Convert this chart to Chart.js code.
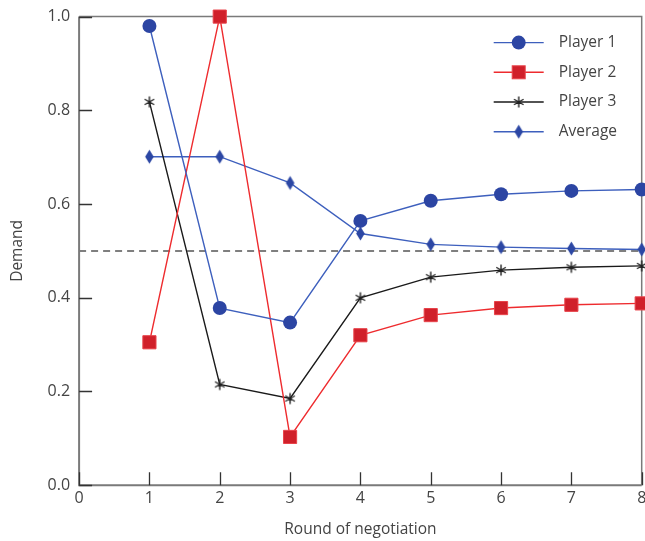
<!DOCTYPE html>
<html>
<head>
<meta charset="utf-8">
<script src="https://cdn.jsdelivr.net/npm/chart.js@4.4.1/dist/chart.umd.min.js"></script>
<style>
html,body{margin:0;padding:0;background:#fff;overflow:hidden;}
#wrap{position:relative;width:645px;height:541px;overflow:hidden;}
#c{position:absolute;left:0;top:-2px;}
</style>
</head>
<body>
<div id="wrap"><canvas id="c" width="652" height="543"></canvas></div>
<script>
const rounds = [1, 2, 3, 4, 5, 6, 7, 8];
const player1 = [0.98, 0.378, 0.347, 0.564, 0.607, 0.621, 0.628, 0.631];
const player2 = [0.305, 1.0, 0.103, 0.320, 0.363, 0.378, 0.385, 0.388];
const player3 = [0.818, 0.215, 0.185, 0.400, 0.444, 0.459, 0.465, 0.468];
const average = [0.701, 0.701, 0.645, 0.537, 0.514, 0.508, 0.505, 0.503];
const fairShare = 0.5;
const xTicks = [0, 1, 2, 3, 4, 5, 6, 7, 8];
const yTicks = [0.0, 0.2, 0.4, 0.6, 0.8, 1.0];
const seriesLabels = ['Player 1', 'Player 2', 'Player 3', 'Average'];

const FONT = "'Open Sans', 'Noto Sans', sans-serif";
const TXT = '#444';

function mkCanvas(w, h, draw) {
  const c = document.createElement('canvas');
  c.width = w; c.height = h;
  const g = c.getContext('2d');
  draw(g, w, h);
  return c;
}
const starImg = mkCanvas(14, 14, (g, w, h) => {
  g.strokeStyle = '#222'; g.lineWidth = 1.4;
  const cx = w / 2, cy = h / 2, r = 5.5;
  g.beginPath();
  for (let i = 0; i < 6; i++) {
    const a = i * Math.PI / 3;
    g.moveTo(cx, cy);
    g.lineTo(cx + r * Math.sin(a), cy - r * Math.cos(a));
  }
  g.stroke();
});
const diamondImg = mkCanvas(11, 17, (g, w, h) => {
  g.fillStyle = '#2c47a4';
  g.beginPath();
  g.moveTo(w / 2, 1.5); g.lineTo(w - 1.2, h / 2); g.lineTo(w / 2, h - 1.5); g.lineTo(1.2, h / 2);
  g.closePath(); g.fill();
});

const toXY = arr => arr.map((v, i) => ({ x: rounds[i], y: v }));

const datasets = [
  { label: seriesLabels[0], data: toXY(player1), borderColor: '#3d5fbd', backgroundColor: '#2c45a3',
    pointStyle: 'circle', pointRadius: 7, pointBorderWidth: 0, borderWidth: 1.4 },
  { label: seriesLabels[1], data: toXY(player2), borderColor: '#ee2b2e', backgroundColor: '#d0202a',
    pointStyle: 'rect', pointRadius: 9.3, pointBorderColor: '#e8434a', pointBorderWidth: 1, borderWidth: 1.4 },
  { label: seriesLabels[2], data: toXY(player3), borderColor: '#1a1a1a', backgroundColor: '#1a1a1a',
    pointStyle: starImg, pointRadius: 7, borderWidth: 1.4 },
  { label: seriesLabels[3], data: toXY(average), borderColor: '#3d5fbd', backgroundColor: '#2c45a3',
    pointStyle: diamondImg, pointRadius: 8, borderWidth: 1.4 }
];
datasets.forEach((d, i) => { d.order = i; d.tension = 0; d.clip = false; d.fill = false; });

const framePlugin = {
  id: 'frame',
  beforeDatasetsDraw(chart) {
    const { ctx, chartArea: a, scales } = chart;
    ctx.save();
    const yy = scales.y.getPixelForValue(fairShare);
    ctx.strokeStyle = '#555'; ctx.lineWidth = 1.5; ctx.setLineDash([7, 5]);
    ctx.beginPath(); ctx.moveTo(a.left, yy); ctx.lineTo(a.right, yy); ctx.stroke();
    ctx.setLineDash([]);
    ctx.strokeStyle = '#7a7a7a'; ctx.lineWidth = 1.5;
    ctx.beginPath(); ctx.moveTo(a.left, a.top); ctx.lineTo(a.right, a.top); ctx.lineTo(a.right, a.bottom); ctx.stroke();
    ctx.lineWidth = 2;
    ctx.beginPath(); ctx.moveTo(a.left, a.top); ctx.lineTo(a.left, a.bottom); ctx.lineTo(a.right, a.bottom); ctx.stroke();
    ctx.strokeStyle = '#333'; ctx.lineWidth = 1.3;
    ctx.beginPath();
    yTicks.forEach(v => {
      const p = Math.round(scales.y.getPixelForValue(v)) + 0.5;
      ctx.moveTo(a.left, p); ctx.lineTo(a.left + 13, p);
    });
    xTicks.forEach(v => {
      const p = Math.round(scales.x.getPixelForValue(v)) + 0.5;
      ctx.moveTo(p, a.bottom); ctx.lineTo(p, a.bottom - 13);
    });
    ctx.stroke();
    ctx.restore();
  },
  afterDraw(chart) {
    const { ctx, chartArea: a } = chart;
    ctx.save();
    const x0 = a.right - 148, lineLen = 50, textX = x0 + 65;
    const y0 = a.top + 26, dy = 29.7;
    ctx.font = '15.5px ' + FONT;
    ctx.textBaseline = 'middle';
    chart.data.datasets.forEach((d, i) => {
      const y = y0 + i * dy;
      ctx.strokeStyle = d.borderColor; ctx.lineWidth = 1.4;
      ctx.beginPath(); ctx.moveTo(x0, y); ctx.lineTo(x0 + lineLen, y); ctx.stroke();
      const cx = x0 + lineLen / 2;
      if (d.pointStyle === 'circle') {
        ctx.fillStyle = d.backgroundColor; ctx.beginPath(); ctx.arc(cx, y, 7, 0, Math.PI * 2); ctx.fill();
      } else if (d.pointStyle === 'rect') {
        ctx.fillStyle = d.backgroundColor; ctx.fillRect(cx - 6.5, y - 6.5, 13, 13);
        ctx.strokeStyle = d.pointBorderColor; ctx.lineWidth = 1; ctx.strokeRect(cx - 6.5, y - 6.5, 13, 13);
      } else {
        const img = d.pointStyle;
        ctx.drawImage(img, cx - img.width / 2, y - img.height / 2);
      }
      ctx.fillStyle = TXT;
      ctx.fillText(d.label, textX, y);
    });
    ctx.restore();
  }
};

new Chart(document.getElementById('c'), {
  type: 'line',
  data: { datasets },
  plugins: [framePlugin],
  options: {
    responsive: false,
    animation: false,
    devicePixelRatio: 1,
    layout: { padding: { top: 15, right: 4, left: 8, bottom: 2 } },
    plugins: { legend: { display: false }, tooltip: { enabled: false } },
    scales: {
      x: {
        type: 'linear', min: 0, max: 8,
        afterBuildTicks: s => { s.ticks = xTicks.map(v => ({ value: v })); },
        grid: { display: false, drawTicks: false }, border: { display: false },
        ticks: { color: TXT, font: { family: FONT, size: 16 }, padding: 4, maxRotation: 0, autoSkip: false },
        title: { display: true, text: 'Round of negotiation', color: TXT, font: { family: FONT, size: 15.5 }, padding: { top: 8, bottom: 0 } }
      },
      y: {
        type: 'linear', min: 0, max: 1,
        afterBuildTicks: s => { s.ticks = yTicks.map(v => ({ value: v })); },
        grid: { display: false, drawTicks: false }, border: { display: false },
        ticks: { color: TXT, font: { family: FONT, size: 16 }, padding: 9, callback: v => v.toFixed(1) },
        title: { display: true, text: 'Demand', color: TXT, font: { family: FONT, size: 15.5 }, padding: { top: 0, bottom: 12 } }
      }
    }
  }
});
</script>
</body>
</html>
